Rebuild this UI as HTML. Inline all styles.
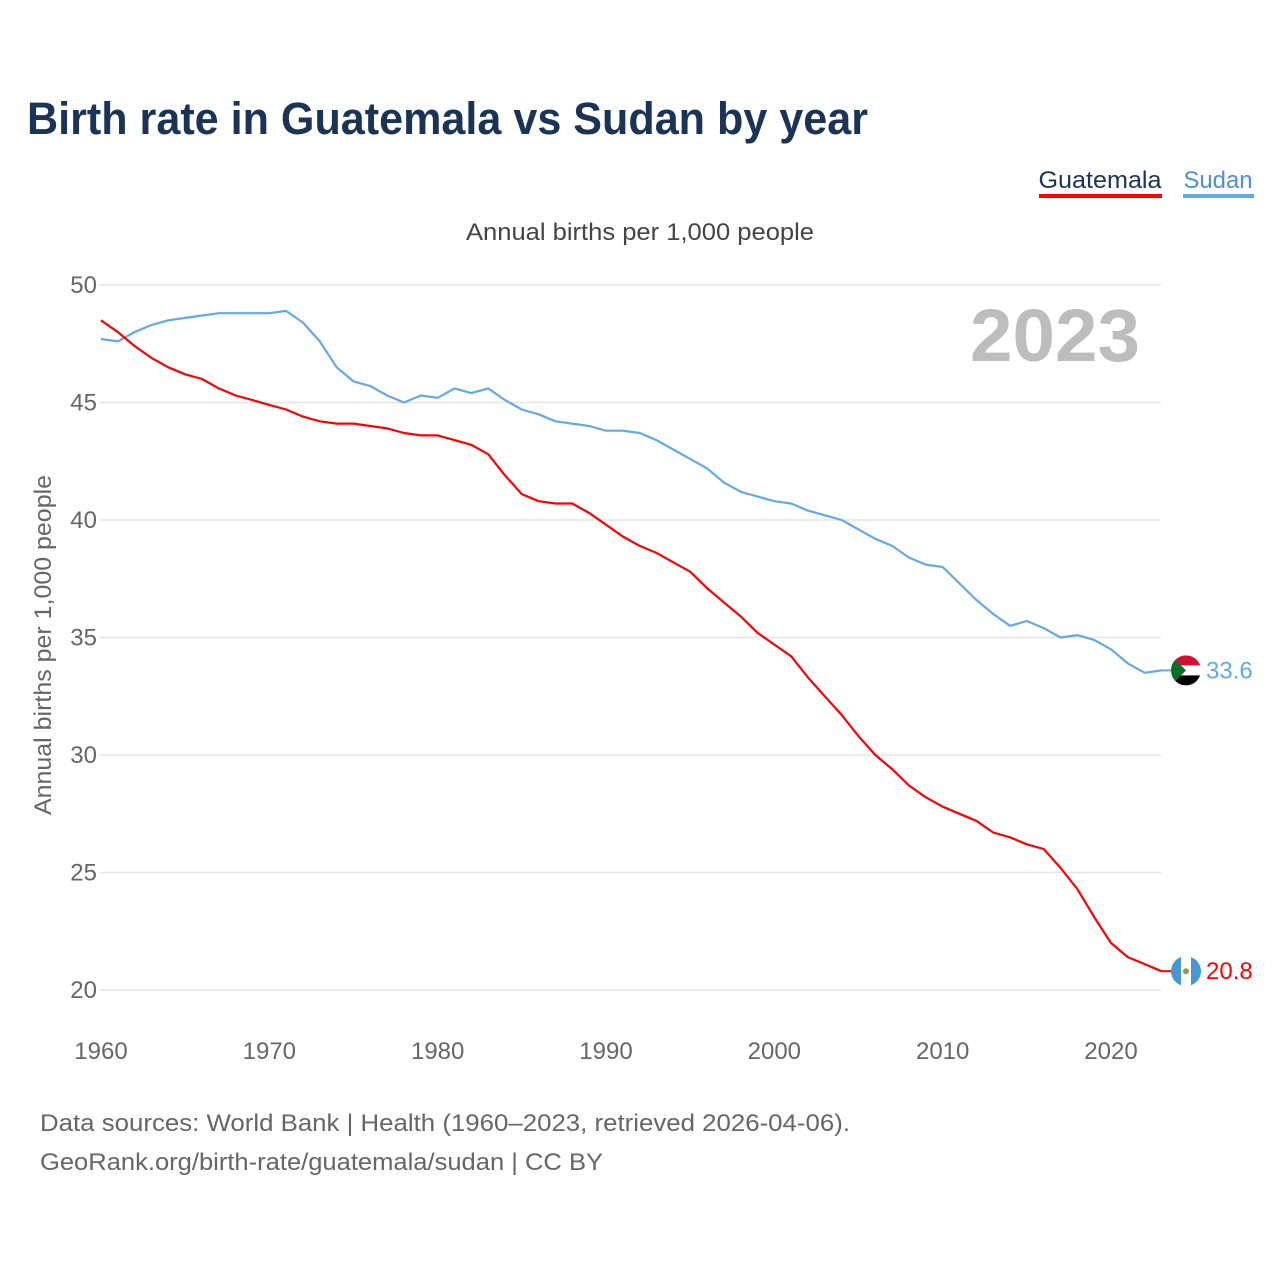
<!DOCTYPE html>
<html><head><meta charset="utf-8"><style>
body{margin:0;background:#fff;font-family:"Liberation Sans",sans-serif}
svg text{font-family:"Liberation Sans",sans-serif}
</style></head><body>
<svg id="chart" width="1280" height="1280" viewBox="0 0 1280 1280">
<text x="27" y="134" font-size="45" font-weight="bold" fill="#1b3354" textLength="841" lengthAdjust="spacingAndGlyphs">Birth rate in Guatemala vs Sudan by year</text>
<g>
<text x="1100" y="188" font-size="24" fill="#1b3354" text-anchor="middle" textLength="123" lengthAdjust="spacingAndGlyphs">Guatemala</text>
<rect x="1039" y="194" width="123" height="4" fill="#f00"/>
<text x="1218" y="188" font-size="24" fill="#4e8fd6" text-anchor="middle" textLength="69" lengthAdjust="spacingAndGlyphs">Sudan</text>
<rect x="1183" y="194" width="71" height="4" fill="#62a8ea"/>
</g>
<text x="640" y="240" font-size="24" fill="#444" text-anchor="middle" textLength="348" lengthAdjust="spacingAndGlyphs">Annual births per 1,000 people</text>
<text x="1055" y="361" font-size="74" font-weight="bold" fill="#bdbdbd" text-anchor="middle" textLength="170" lengthAdjust="spacingAndGlyphs">2023</text>
<text transform="translate(51,645) rotate(-90)" font-size="24" fill="#666" text-anchor="middle" textLength="340" lengthAdjust="spacingAndGlyphs">Annual births per 1,000 people</text>
<g id="grid"></g><g id="lines"></g><g id="ends"></g>
<text x="40" y="1131" font-size="24" fill="#666" textLength="810" lengthAdjust="spacingAndGlyphs">Data sources: World Bank | Health (1960–2023, retrieved 2026-04-06).</text>
<text x="40" y="1170" font-size="24" fill="#666" textLength="563" lengthAdjust="spacingAndGlyphs">GeoRank.org/birth-rate/guatemala/sudan | CC BY</text>
</svg>
<script>
const years=[];for(let y=1960;y<=2023;y++)years.push(y);
const guatemala=[48.5,48.0,47.4,46.9,46.5,46.2,46.0,45.6,45.3,45.1,44.9,44.7,44.4,44.2,44.1,44.1,44.0,43.9,43.7,43.6,43.6,43.4,43.2,42.8,41.9,41.1,40.8,40.7,40.7,40.3,39.8,39.3,38.9,38.6,38.2,37.8,37.1,36.5,35.9,35.2,34.7,34.2,33.3,32.5,31.7,30.8,30.0,29.4,28.7,28.2,27.8,27.5,27.2,26.7,26.5,26.2,26.0,25.2,24.3,23.1,22.0,21.4,21.1,20.8];
const sudan=[47.7,47.6,48.0,48.3,48.5,48.6,48.7,48.8,48.8,48.8,48.8,48.9,48.4,47.6,46.5,45.9,45.7,45.3,45.0,45.3,45.2,45.6,45.4,45.6,45.1,44.7,44.5,44.2,44.1,44.0,43.8,43.8,43.7,43.4,43.0,42.6,42.2,41.6,41.2,41.0,40.8,40.7,40.4,40.2,40.0,39.6,39.2,38.9,38.4,38.1,38.0,37.3,36.6,36.0,35.5,35.7,35.4,35.0,35.1,34.9,34.5,33.9,33.5,33.6];
const yTicks=[20,25,30,35,40,45,50];
const xTicks=[1960,1970,1980,1990,2000,2010,2020];
const X=v=>101+(v-1960)*(1010/60);
const Y=v=>990-(v-20)*(705/30);
const NS="http://www.w3.org/2000/svg";
function mk(t,a,p){const e=document.createElementNS(NS,t);for(const k in a)e.setAttribute(k,a[k]);p.appendChild(e);return e;}
const grid=document.getElementById('grid'),lines=document.getElementById('lines'),ends=document.getElementById('ends');
yTicks.forEach(v=>{
 const l=mk('line',{x1:100,x2:1161,y1:Y(v),y2:Y(v),stroke:'#e6e6e6','stroke-width':1.5},grid);
 
 
 const t=mk('text',{x:97,y:Y(v)+8,'font-size':24,fill:'#666','text-anchor':'end'},grid);t.textContent=v;
 
 
});
xTicks.forEach(v=>{
 const t=mk('text',{x:X(v),y:1059,'font-size':24,fill:'#666','text-anchor':'middle'},grid);t.textContent=v;
 
 
});
function line(d,c,name){
 const p=mk('path',{d:d.map((v,i)=>(i?'L':'M')+X(years[i]).toFixed(1)+','+Y(v).toFixed(1)).join(''),fill:'none',stroke:c,'stroke-width':2.2,'stroke-linejoin':'round'},lines);
 
 
}
line(sudan,'#62a8ea','sudan-line');
line(guatemala,'#f00','guatemala-line');
function end(d,c,name,flag){
 const v=d[d.length-1],y=Y(v),x0=X(years[years.length-1]);
 mk('line',{x1:x0,x2:1172,y1:y,y2:y,stroke:c,'stroke-width':2},ends);
 const g=mk('g',{},ends);
 
 
 g.innerHTML=flag(1186,y);
 const t=mk('text',{x:1206,y:y+8,'font-size':24,fill:c},ends);t.textContent=v.toFixed(1);
 
 
}
end(sudan,'#62a8ea','sudan',(x,y)=>`<clipPath id="cs"><circle cx="${x}" cy="${y}" r="15"/></clipPath><g clip-path="url(#cs)"><rect x="${x-15}" y="${y-15}" width="30" height="10" fill="#d21034"/><rect x="${x-15}" y="${y-5}" width="30" height="10" fill="#fff"/><rect x="${x-15}" y="${y+5}" width="30" height="10" fill="#000"/><path d="M${x-15},${y-15}L${x},${y}L${x-15},${y+15}Z" fill="#007229"/></g>`);
end(guatemala,'#f00','guatemala',(x,y)=>`<clipPath id="cg"><circle cx="${x}" cy="${y}" r="15"/></clipPath><g clip-path="url(#cg)"><rect x="${x-15}" y="${y-15}" width="10" height="30" fill="#4997d0"/><rect x="${x-5}" y="${y-15}" width="10" height="30" fill="#fff"/><rect x="${x+5}" y="${y-15}" width="10" height="30" fill="#4997d0"/><circle cx="${x}" cy="${y}" r="3" fill="#8a9a5b"/></g>`);
</script>
</body></html>
